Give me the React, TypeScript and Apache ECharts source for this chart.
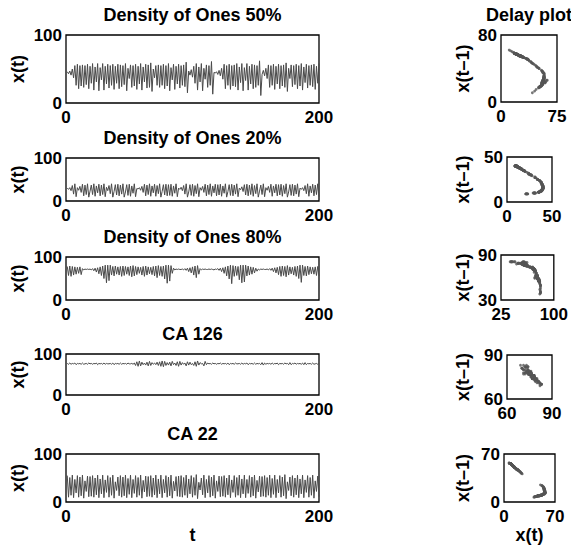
import React, { useEffect, useRef } from "react";
import * as echarts from "echarts";

const FONT = '"Liberation Sans", Arial, Helvetica, sans-serif';

const titles = ["Density of Ones 50%", "Density of Ones 20%", "Density of Ones 80%", "CA 126", "CA 22"];
const delayTitle = "Delay plot";

const density50 = [
  46, 43, 47, 41, 50, 37, 55, 26, 57, 21, 55, 25, 56, 23, 55, 27, 57, 21, 54, 29,
  58, 19, 53, 31, 58, 18, 52, 34, 58, 19, 54, 28, 57, 22, 55, 26, 57, 20, 54, 29,
  57, 21, 56, 24, 55, 27, 58, 18, 51, 36, 56, 23, 55, 25, 57, 20, 54, 28, 58, 19,
  53, 31, 57, 22, 56, 23, 59, 17, 50, 37, 55, 26, 56, 23, 55, 26, 57, 21, 55, 25,
  58, 18, 52, 34, 57, 20, 54, 28, 57, 22, 55, 26, 56, 24, 60, 15, 47, 41, 49, 38,
  54, 29, 58, 19, 53, 31, 58, 18, 51, 35, 56, 23, 55, 26, 61, 13, 45, 44, 46, 42,
  48, 40, 51, 35, 57, 21, 55, 26, 57, 20, 55, 25, 56, 24, 58, 19, 53, 30, 58, 18,
  52, 33, 58, 19, 54, 28, 57, 21, 56, 23, 55, 26, 62, 11, 42, 48, 40, 51, 36, 56,
  23, 55, 26, 57, 20, 54, 28, 57, 21, 55, 25, 56, 23, 59, 17, 51, 36, 56, 24, 55,
  27, 57, 21, 55, 25, 58, 19, 53, 30, 57, 22, 55, 26, 56, 24, 57, 20, 54, 29, 58,
];

const density20 = [
  30, 27, 31, 24, 36, 16, 40, 10, 31, 25, 34, 20, 39, 12, 37, 15, 40, 9, 23, 37,
  15, 40, 11, 35, 19, 39, 12, 37, 15, 40, 10, 32, 24, 36, 17, 40, 9, 22, 38, 14,
  39, 12, 37, 16, 40, 9, 21, 38, 13, 39, 11, 35, 18, 40, 10, 29, 28, 31, 25, 34,
  20, 39, 12, 37, 15, 40, 11, 35, 19, 39, 11, 36, 17, 40, 9, 22, 38, 14, 39, 12,
  38, 13, 39, 11, 35, 18, 40, 10, 30, 27, 32, 24, 36, 16, 40, 9, 21, 38, 13, 39,
  11, 36, 17, 40, 10, 31, 25, 34, 20, 39, 12, 37, 15, 40, 11, 35, 19, 39, 12, 38,
  14, 39, 11, 35, 18, 40, 9, 22, 38, 13, 39, 12, 37, 16, 40, 10, 30, 26, 33, 22,
  38, 14, 39, 12, 37, 15, 40, 11, 36, 17, 40, 9, 23, 37, 15, 40, 10, 31, 25, 34,
  20, 39, 11, 35, 19, 39, 12, 38, 14, 39, 11, 36, 17, 40, 9, 21, 38, 13, 39, 12,
  37, 16, 40, 10, 30, 27, 31, 24, 36, 17, 40, 11, 35, 19, 39, 12, 37, 15, 40, 10,
];

const density80 = [
  78, 57, 79, 55, 78, 58, 77, 60, 76, 62, 77, 59, 73, 70, 72, 71, 72, 71, 72, 70,
  73, 68, 74, 65, 75, 61, 77, 57, 79, 50, 81, 40, 81, 45, 81, 58, 78, 56, 79, 60,
  77, 58, 78, 55, 79, 57, 78, 60, 77, 57, 79, 54, 80, 56, 78, 59, 77, 62, 76, 58,
  78, 55, 79, 58, 77, 61, 76, 59, 78, 56, 79, 52, 80, 57, 78, 55, 79, 49, 81, 39,
  81, 44, 80, 62, 74, 70, 72, 71, 72, 71, 71, 72, 70, 73, 69, 74, 66, 75, 63, 77,
  58, 79, 52, 80, 60, 73, 70, 72, 71, 72, 71, 71, 72, 71, 72, 71, 70, 72, 71, 73,
  69, 74, 66, 75, 62, 77, 56, 79, 49, 81, 38, 80, 55, 79, 57, 78, 47, 81, 40, 81,
  42, 81, 56, 79, 58, 77, 60, 76, 63, 74, 67, 72, 70, 72, 71, 72, 71, 71, 72, 70,
  73, 69, 74, 66, 75, 63, 76, 59, 78, 55, 79, 57, 78, 54, 80, 58, 77, 61, 76, 58,
  78, 55, 79, 50, 81, 41, 81, 57, 78, 56, 79, 59, 77, 61, 76, 60, 77, 57, 78, 56,
];

const ca126 = [
  77, 75, 78, 75, 77, 76, 78, 74, 77, 76, 77, 75, 78, 75, 76, 77, 75, 78, 76, 77,
  75, 77, 76, 78, 74, 77, 76, 77, 75, 78, 75, 77, 76, 76, 77, 75, 78, 74, 77, 76,
  77, 75, 78, 75, 77, 76, 77, 75, 78, 76, 76, 77, 75, 78, 72, 81, 70, 83, 71, 80,
  74, 78, 73, 80, 71, 82, 72, 79, 75, 78, 74, 80, 72, 81, 70, 83, 69, 82, 72, 79,
  73, 80, 71, 82, 74, 78, 72, 81, 70, 82, 73, 79, 75, 78, 71, 81, 73, 80, 74, 77,
  72, 81, 70, 83, 73, 79, 76, 77, 71, 82, 74, 78, 76, 77, 75, 78, 76, 77, 75, 77,
  76, 78, 75, 77, 76, 77, 75, 78, 74, 77, 76, 77, 75, 78, 76, 76, 77, 75, 78, 75,
  77, 76, 78, 74, 77, 76, 77, 75, 78, 75, 77, 76, 77, 74, 79, 73, 78, 75, 77, 76,
  77, 75, 78, 75, 77, 76, 78, 74, 77, 76, 77, 75, 78, 76, 77, 74, 79, 74, 77, 76,
  78, 75, 77, 76, 77, 75, 78, 74, 79, 74, 77, 76, 77, 75, 78, 75, 76, 77, 75, 77,
];

const ca22 = [
  55, 10, 51, 14, 56, 9, 47, 19, 55, 10, 52, 13, 56, 8, 44, 22, 54, 11, 53, 12,
  55, 10, 50, 15, 56, 9, 48, 17, 56, 9, 46, 20, 55, 10, 51, 14, 56, 8, 42, 24,
  52, 13, 55, 10, 52, 13, 56, 9, 49, 16, 56, 9, 47, 18, 55, 10, 51, 14, 56, 8,
  45, 21, 54, 11, 53, 12, 55, 10, 50, 15, 56, 9, 48, 17, 56, 9, 47, 19, 55, 10,
  52, 13, 56, 8, 43, 23, 53, 12, 54, 11, 55, 10, 51, 14, 56, 9, 48, 17, 55, 10,
  51, 14, 57, 7, 41, 25, 50, 15, 56, 9, 47, 19, 55, 10, 52, 13, 56, 8, 44, 22,
  54, 11, 53, 12, 55, 10, 50, 15, 56, 9, 46, 20, 55, 10, 51, 14, 56, 9, 48, 17,
  56, 9, 47, 18, 55, 10, 52, 13, 56, 8, 45, 21, 54, 11, 53, 12, 55, 10, 51, 14,
  56, 9, 49, 16, 56, 9, 47, 19, 55, 10, 52, 13, 57, 7, 42, 24, 52, 13, 55, 10,
  50, 15, 56, 9, 48, 17, 56, 9, 46, 20, 55, 10, 51, 14, 56, 8, 44, 22, 54, 11,
];

const allSeries = [density50, density20, density80, ca126, ca22];

const timeRange = [0, 200];
const valueRange = [0, 100];
const delayXRanges = [[0, 75], [0, 50], [25, 100], [60, 90], [0, 70]];
const delayYRanges = [[0, 80], [0, 50], [30, 90], [60, 90], [0, 70]];

const leftBoxes = [
  { left: 66, top: 35, width: 253, height: 68 },
  { left: 66, top: 158, width: 253, height: 43 },
  { left: 66, top: 257, width: 253, height: 43 },
  { left: 66, top: 354, width: 253, height: 41 },
  { left: 66, top: 454, width: 253, height: 48 },
];
const rightBoxes = [
  { left: 501, top: 35, width: 56, height: 67 },
  { left: 507, top: 157, width: 45, height: 45 },
  { left: 501, top: 255, width: 56, height: 45 },
  { left: 507, top: 355, width: 45, height: 44 },
  { left: 504, top: 454, width: 51, height: 48 },
];

const LINE_COLOR = "#4a4a4a";
const DOT_COLOR = "#555555";

function labelStyle(margin: number) {
  return {
    fontFamily: FONT,
    fontWeight: "bold" as const,
    fontSize: 17,
    color: "#000",
    margin,
  };
}

function makeAxis(gridIndex: number, range: number[], isX: boolean) {
  return {
    type: "value" as const,
    gridIndex,
    min: range[0],
    max: range[1],
    axisLine: { show: false },
    axisTick: { show: false },
    splitLine: { show: false },
    axisLabel: { ...labelStyle(isX ? 6 : 4), customValues: [range[0], range[1]] },
  };
}

function textEl(text: string, x: number, y: number, rotate = false) {
  return {
    type: "text",
    x,
    y,
    rotation: rotate ? Math.PI / 2 : 0,
    silent: true,
    style: {
      text,
      fill: "#000",
      fontFamily: FONT,
      fontWeight: "bold",
      fontSize: 18,
      align: "center",
      verticalAlign: "middle",
      textAlign: "center",
      textVerticalAlign: "middle",
    },
  };
}

export default function App() {
  const ref = useRef<HTMLDivElement>(null);

  useEffect(() => {
    if (!ref.current) return;
    const chart = echarts.init(ref.current, undefined, { renderer: "svg" });

    const grids: any[] = [];
    const xAxes: any[] = [];
    const yAxes: any[] = [];
    const series: any[] = [];
    const graphics: any[] = [];

    allSeries.forEach((vals, r) => {
      const lb = leftBoxes[r];
      const rb = rightBoxes[r];
      const gl = grids.length;
      grids.push({ ...lb, show: true, borderColor: "#000", borderWidth: 1.3, backgroundColor: "transparent" });
      xAxes.push(makeAxis(gl, timeRange, true));
      yAxes.push(makeAxis(gl, valueRange, false));
      series.push({
        type: "line",
        xAxisIndex: gl,
        yAxisIndex: gl,
        data: vals.map((v, i) => [i + 1, v]),
        showSymbol: false,
        symbol: "none",
        lineStyle: { width: 1, color: LINE_COLOR },
        silent: true,
        clip: true,
      });

      const gr = grids.length;
      grids.push({ ...rb, show: true, borderColor: "#000", borderWidth: 1.3, backgroundColor: "transparent" });
      xAxes.push(makeAxis(gr, delayXRanges[r], true));
      yAxes.push(makeAxis(gr, delayYRanges[r], false));
      const pairs: number[][] = [];
      for (let t = 1; t < vals.length; t++) pairs.push([vals[t], vals[t - 1]]);
      series.push({
        type: "scatter",
        xAxisIndex: gr,
        yAxisIndex: gr,
        data: pairs,
        symbol: "circle",
        symbolSize: 2.8,
        itemStyle: { color: DOT_COLOR },
        silent: true,
        clip: true,
      });

      graphics.push(textEl(titles[r], lb.left + lb.width / 2, lb.top - 20.5));
      graphics.push(textEl("x(t)", 18, lb.top + lb.height / 2, true));
      graphics.push(textEl("x(t\u20131)", 463, rb.top + rb.height / 2, true));
    });

    graphics.push(textEl(delayTitle, rightBoxes[0].left + rightBoxes[0].width / 2, rightBoxes[0].top - 20.5));
    graphics.push(textEl("t", leftBoxes[4].left + leftBoxes[4].width / 2, 535));
    graphics.push(textEl("x(t)", rightBoxes[4].left + rightBoxes[4].width / 2, 535));

    chart.setOption({
      animation: false,
      backgroundColor: "#ffffff",
      grid: grids,
      xAxis: xAxes,
      yAxis: yAxes,
      series,
      graphic: { elements: graphics },
    });

    return () => chart.dispose();
  }, []);

  return (
    <div
      ref={ref}
      style={{ position: "fixed", left: 0, top: 0, width: 571, height: 549, background: "#fff" }}
    />
  );
}
